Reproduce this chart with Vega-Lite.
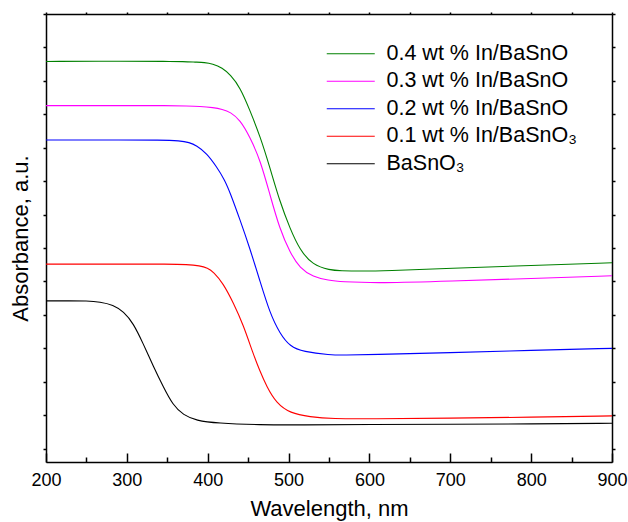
{
  "$schema": "https://vega.github.io/schema/vega-lite/v6.json",
  "width": 566,
  "height": 448,
  "autosize": {"type": "none"},
  "padding": {"left": 46, "top": 14, "right": 16, "bottom": 60},
  "background": "white",
  "config": {
    "view": {"stroke": null},
    "font": "Liberation Sans",
    "axis": {"domainColor": "black", "domainWidth": 1.5, "tickColor": "black", "tickWidth": 1.5, "grid": false, "labelColor": "black", "titleColor": "black", "labelFont": "Liberation Sans", "titleFont": "Liberation Sans", "titleFontWeight": "normal", "labelFlush": false}
  },
  "data": {"values": [
    {"s": "0.4 wt % In/BaSnO", "w": 200, "a": 1.158},
    {"s": "0.4 wt % In/BaSnO", "w": 300, "a": 1.159},
    {"s": "0.4 wt % In/BaSnO", "w": 350, "a": 1.158},
    {"s": "0.4 wt % In/BaSnO", "w": 370, "a": 1.158},
    {"s": "0.4 wt % In/BaSnO", "w": 385, "a": 1.156},
    {"s": "0.4 wt % In/BaSnO", "w": 396, "a": 1.155},
    {"s": "0.4 wt % In/BaSnO", "w": 406, "a": 1.151},
    {"s": "0.4 wt % In/BaSnO", "w": 418, "a": 1.139},
    {"s": "0.4 wt % In/BaSnO", "w": 428, "a": 1.118},
    {"s": "0.4 wt % In/BaSnO", "w": 440, "a": 1.081},
    {"s": "0.4 wt % In/BaSnO", "w": 452, "a": 1.013},
    {"s": "0.4 wt % In/BaSnO", "w": 465, "a": 0.933},
    {"s": "0.4 wt % In/BaSnO", "w": 477, "a": 0.840},
    {"s": "0.4 wt % In/BaSnO", "w": 489, "a": 0.740},
    {"s": "0.4 wt % In/BaSnO", "w": 502, "a": 0.657},
    {"s": "0.4 wt % In/BaSnO", "w": 514, "a": 0.594},
    {"s": "0.4 wt % In/BaSnO", "w": 530, "a": 0.549},
    {"s": "0.4 wt % In/BaSnO", "w": 551, "a": 0.534},
    {"s": "0.4 wt % In/BaSnO", "w": 564, "a": 0.532},
    {"s": "0.4 wt % In/BaSnO", "w": 590, "a": 0.531},
    {"s": "0.4 wt % In/BaSnO", "w": 620, "a": 0.532},
    {"s": "0.4 wt % In/BaSnO", "w": 700, "a": 0.539},
    {"s": "0.4 wt % In/BaSnO", "w": 800, "a": 0.548},
    {"s": "0.4 wt % In/BaSnO", "w": 900, "a": 0.556},

    {"s": "0.3 wt % In/BaSnO", "w": 200, "a": 1.026},
    {"s": "0.3 wt % In/BaSnO", "w": 300, "a": 1.026},
    {"s": "0.3 wt % In/BaSnO", "w": 350, "a": 1.026},
    {"s": "0.3 wt % In/BaSnO", "w": 375, "a": 1.025},
    {"s": "0.3 wt % In/BaSnO", "w": 390, "a": 1.024},
    {"s": "0.3 wt % In/BaSnO", "w": 407, "a": 1.020},
    {"s": "0.3 wt % In/BaSnO", "w": 418, "a": 1.015},
    {"s": "0.3 wt % In/BaSnO", "w": 428, "a": 1.007},
    {"s": "0.3 wt % In/BaSnO", "w": 440, "a": 0.983},
    {"s": "0.3 wt % In/BaSnO", "w": 452, "a": 0.933},
    {"s": "0.3 wt % In/BaSnO", "w": 465, "a": 0.863},
    {"s": "0.3 wt % In/BaSnO", "w": 477, "a": 0.759},
    {"s": "0.3 wt % In/BaSnO", "w": 489, "a": 0.657},
    {"s": "0.3 wt % In/BaSnO", "w": 502, "a": 0.585},
    {"s": "0.3 wt % In/BaSnO", "w": 514, "a": 0.540},
    {"s": "0.3 wt % In/BaSnO", "w": 530, "a": 0.514},
    {"s": "0.3 wt % In/BaSnO", "w": 550, "a": 0.503},
    {"s": "0.3 wt % In/BaSnO", "w": 564, "a": 0.499},
    {"s": "0.3 wt % In/BaSnO", "w": 613, "a": 0.495},
    {"s": "0.3 wt % In/BaSnO", "w": 700, "a": 0.501},
    {"s": "0.3 wt % In/BaSnO", "w": 800, "a": 0.509},
    {"s": "0.3 wt % In/BaSnO", "w": 900, "a": 0.517},

    {"s": "0.2 wt % In/BaSnO", "w": 200, "a": 0.923},
    {"s": "0.2 wt % In/BaSnO", "w": 300, "a": 0.923},
    {"s": "0.2 wt % In/BaSnO", "w": 340, "a": 0.923},
    {"s": "0.2 wt % In/BaSnO", "w": 366, "a": 0.921},
    {"s": "0.2 wt % In/BaSnO", "w": 377, "a": 0.916},
    {"s": "0.2 wt % In/BaSnO", "w": 386, "a": 0.907},
    {"s": "0.2 wt % In/BaSnO", "w": 399, "a": 0.883},
    {"s": "0.2 wt % In/BaSnO", "w": 411, "a": 0.843},
    {"s": "0.2 wt % In/BaSnO", "w": 421, "a": 0.804},
    {"s": "0.2 wt % In/BaSnO", "w": 428, "a": 0.764},
    {"s": "0.2 wt % In/BaSnO", "w": 440, "a": 0.684},
    {"s": "0.2 wt % In/BaSnO", "w": 452, "a": 0.600},
    {"s": "0.2 wt % In/BaSnO", "w": 465, "a": 0.498},
    {"s": "0.2 wt % In/BaSnO", "w": 477, "a": 0.405},
    {"s": "0.2 wt % In/BaSnO", "w": 489, "a": 0.345},
    {"s": "0.2 wt % In/BaSnO", "w": 502, "a": 0.305},
    {"s": "0.2 wt % In/BaSnO", "w": 518, "a": 0.290},
    {"s": "0.2 wt % In/BaSnO", "w": 551, "a": 0.280},
    {"s": "0.2 wt % In/BaSnO", "w": 570, "a": 0.280},
    {"s": "0.2 wt % In/BaSnO", "w": 600, "a": 0.281},
    {"s": "0.2 wt % In/BaSnO", "w": 700, "a": 0.287},
    {"s": "0.2 wt % In/BaSnO", "w": 800, "a": 0.294},
    {"s": "0.2 wt % In/BaSnO", "w": 900, "a": 0.300},

    {"s": "0.1 wt % In/BaSnO₃", "w": 200, "a": 0.552},
    {"s": "0.1 wt % In/BaSnO₃", "w": 300, "a": 0.552},
    {"s": "0.1 wt % In/BaSnO₃", "w": 350, "a": 0.552},
    {"s": "0.1 wt % In/BaSnO₃", "w": 375, "a": 0.551},
    {"s": "0.1 wt % In/BaSnO₃", "w": 390, "a": 0.547},
    {"s": "0.1 wt % In/BaSnO₃", "w": 400, "a": 0.540},
    {"s": "0.1 wt % In/BaSnO₃", "w": 407, "a": 0.529},
    {"s": "0.1 wt % In/BaSnO₃", "w": 419, "a": 0.495},
    {"s": "0.1 wt % In/BaSnO₃", "w": 432, "a": 0.435},
    {"s": "0.1 wt % In/BaSnO₃", "w": 444, "a": 0.370},
    {"s": "0.1 wt % In/BaSnO₃", "w": 456, "a": 0.285},
    {"s": "0.1 wt % In/BaSnO₃", "w": 464, "a": 0.235},
    {"s": "0.1 wt % In/BaSnO₃", "w": 473, "a": 0.185},
    {"s": "0.1 wt % In/BaSnO₃", "w": 485, "a": 0.136},
    {"s": "0.1 wt % In/BaSnO₃", "w": 502, "a": 0.106},
    {"s": "0.1 wt % In/BaSnO₃", "w": 526, "a": 0.095},
    {"s": "0.1 wt % In/BaSnO₃", "w": 555, "a": 0.089},
    {"s": "0.1 wt % In/BaSnO₃", "w": 600, "a": 0.089},
    {"s": "0.1 wt % In/BaSnO₃", "w": 700, "a": 0.091},
    {"s": "0.1 wt % In/BaSnO₃", "w": 800, "a": 0.094},
    {"s": "0.1 wt % In/BaSnO₃", "w": 900, "a": 0.098},

    {"s": "BaSnO₃", "w": 200, "a": 0.442},
    {"s": "BaSnO₃", "w": 230, "a": 0.442},
    {"s": "BaSnO₃", "w": 250, "a": 0.442},
    {"s": "BaSnO₃", "w": 267, "a": 0.439},
    {"s": "BaSnO₃", "w": 283, "a": 0.430},
    {"s": "BaSnO₃", "w": 296, "a": 0.410},
    {"s": "BaSnO₃", "w": 308, "a": 0.375},
    {"s": "BaSnO₃", "w": 320, "a": 0.315},
    {"s": "BaSnO₃", "w": 333, "a": 0.245},
    {"s": "BaSnO₃", "w": 345, "a": 0.185},
    {"s": "BaSnO₃", "w": 357, "a": 0.130},
    {"s": "BaSnO₃", "w": 370, "a": 0.100},
    {"s": "BaSnO₃", "w": 386, "a": 0.084},
    {"s": "BaSnO₃", "w": 411, "a": 0.076},
    {"s": "BaSnO₃", "w": 465, "a": 0.071},
    {"s": "BaSnO₃", "w": 514, "a": 0.071},
    {"s": "BaSnO₃", "w": 600, "a": 0.072},
    {"s": "BaSnO₃", "w": 700, "a": 0.073},
    {"s": "BaSnO₃", "w": 800, "a": 0.074},
    {"s": "BaSnO₃", "w": 900, "a": 0.076}
  ]},
  "layer": [
    {
      "mark": {"type": "line", "strokeWidth": 1.1, "interpolate": "basis", "clip": true},
      "encoding": {
        "x": {"field": "w", "type": "quantitative", "scale": {"domain": [200, 900], "nice": false, "zero": false},
          "axis": {"orient": "bottom", "title": "Wavelength, nm", "titleFontSize": 22, "titlePadding": 9, "labelFontSize": 18, "labelPadding": 18,
            "values": [200, 250, 300, 350, 400, 450, 500, 550, 600, 650, 700, 750, 800, 850, 900],
            "labelExpr": "datum.value % 100 === 0 ? datum.label : ''",
            "tickSize": {"condition": {"test": "datum.value % 100 === 0", "value": -9}, "value": -5}}},
        "y": {"field": "a", "type": "quantitative", "scale": {"domain": [-0.04, 1.3], "nice": false, "zero": false},
          "axis": {"orient": "left", "title": "Absorbance, a.u.", "titleFontSize": 22, "titlePadding": 10, "labels": false, "tickSize": 3,
            "values": [0, 0.1, 0.2, 0.3, 0.4, 0.5, 0.6, 0.7, 0.8, 0.9, 1.0, 1.1, 1.2, 1.3]}},
        "color": {"field": "s", "type": "nominal",
          "scale": {"domain": ["0.4 wt % In/BaSnO", "0.3 wt % In/BaSnO", "0.2 wt % In/BaSnO", "0.1 wt % In/BaSnO₃", "BaSnO₃"],
                    "range": ["#008000", "#ff00ff", "#0000ff", "#ff0000", "#000000"]},
          "legend": {"orient": "none", "legendX": 294, "legendY": 29, "title": null, "symbolType": "M-4,0L4,0", "symbolSize": 144, "symbolStrokeWidth": 1.2,
            "labelFontSize": 21.5, "labelFont": "Liberation Sans", "labelColor": "black", "labelOffset": 25, "rowPadding": 4.5, "labelLimit": 400}}
      }
    },
    {
      "mark": {"type": "line", "strokeOpacity": 0},
      "encoding": {
        "x": {"field": "w", "type": "quantitative", "scale": {"domain": [200, 900], "nice": false, "zero": false},
          "axis": {"orient": "top", "title": null, "labels": false, "tickSize": 2,
            "values": [200, 250, 300, 350, 400, 450, 500, 550, 600, 650, 700, 750, 800, 850, 900]}},
        "y": {"field": "a", "type": "quantitative", "scale": {"domain": [-0.04, 1.3], "nice": false, "zero": false},
          "axis": {"orient": "right", "title": null, "labels": false, "tickSize": 3,
            "values": [0, 0.1, 0.2, 0.3, 0.4, 0.5, 0.6, 0.7, 0.8, 0.9, 1.0, 1.1, 1.2, 1.3]}},
        "detail": {"field": "s", "type": "nominal"}
      }
    }
  ],
  "resolve": {"axis": {"x": "independent", "y": "independent"}}
}
